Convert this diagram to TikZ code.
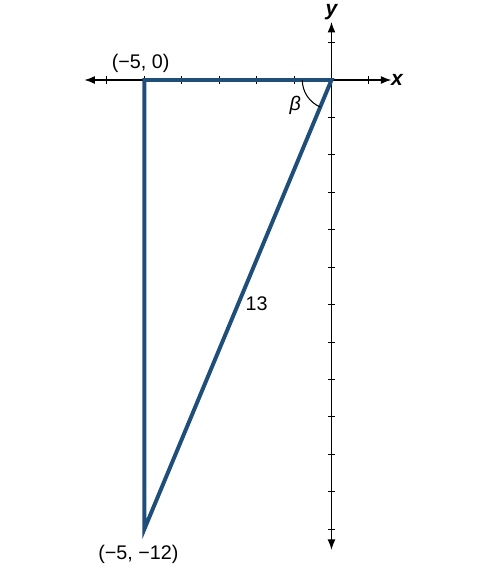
\documentclass[tikz,border=0pt]{standalone}
\usepackage{fontspec}
\setmainfont{Liberation Sans}
\usetikzlibrary{arrows.meta}
\definecolor{triblue}{RGB}{31,78,121}
\begin{document}
\begin{tikzpicture}[
  axis/.style={line width=0.9pt,{Latex[length=8pt,width=6pt]}-{Latex[length=8pt,width=6pt]}},
  tick/.style={line width=0.8pt},
  tri/.style={draw=triblue,line width=3pt,line join=miter},
  lbl/.style={font=\fontsize{15}{17}\selectfont,inner sep=1pt},
  axlbl/.style={font=\fontsize{16}{18}\selectfont\bfseries\itshape,inner sep=1pt}
]
\useasboundingbox (-8.854,-13.034) rectangle (4.153,2.137);
\coordinate (O) at (0,0);
\coordinate (A) at (-5,0);
\coordinate (B) at (-5,-12);
\coordinate (xl) at (-6.6,0);
\coordinate (xr) at (1.6,0);
\coordinate (yt) at (0,1.55);
\coordinate (yb) at (0,-12.55);
\draw[axis] (xl) -- (xr);
\draw[axis] (yb) -- (yt);
\foreach \i in {-6,-5,-4,-3,-2,-1,1}
  \draw[tick] (\i,0.1) -- (\i,-0.1);
\foreach \j in {1,-1,-2,-3,-4,-5,-6,-7,-8,-9,-10,-11,-12}
  \draw[tick] (-0.1,\j) -- (0.1,\j);
\node[axlbl] (xlab) at (1.75,0) {x};
\node[axlbl] (ylab) at (0,1.82) {y};
\draw[tri] (A) -- (O) -- (B) -- cycle;
\draw[line width=0.8pt] (-0.78,0) arc[start angle=180,end angle=247.4,radius=0.78];
\node[lbl] (beta) at (-0.97,-0.67) {\textit{β}};
\node[lbl] (hyp) at (-2.0,-5.98) {13};
\node[lbl] (la) at (-5.1,0.45) {(−5, 0)};
\node[lbl] (lb) at (-5.16,-12.66) {(−5, −12)};
\end{tikzpicture}
\end{document}
